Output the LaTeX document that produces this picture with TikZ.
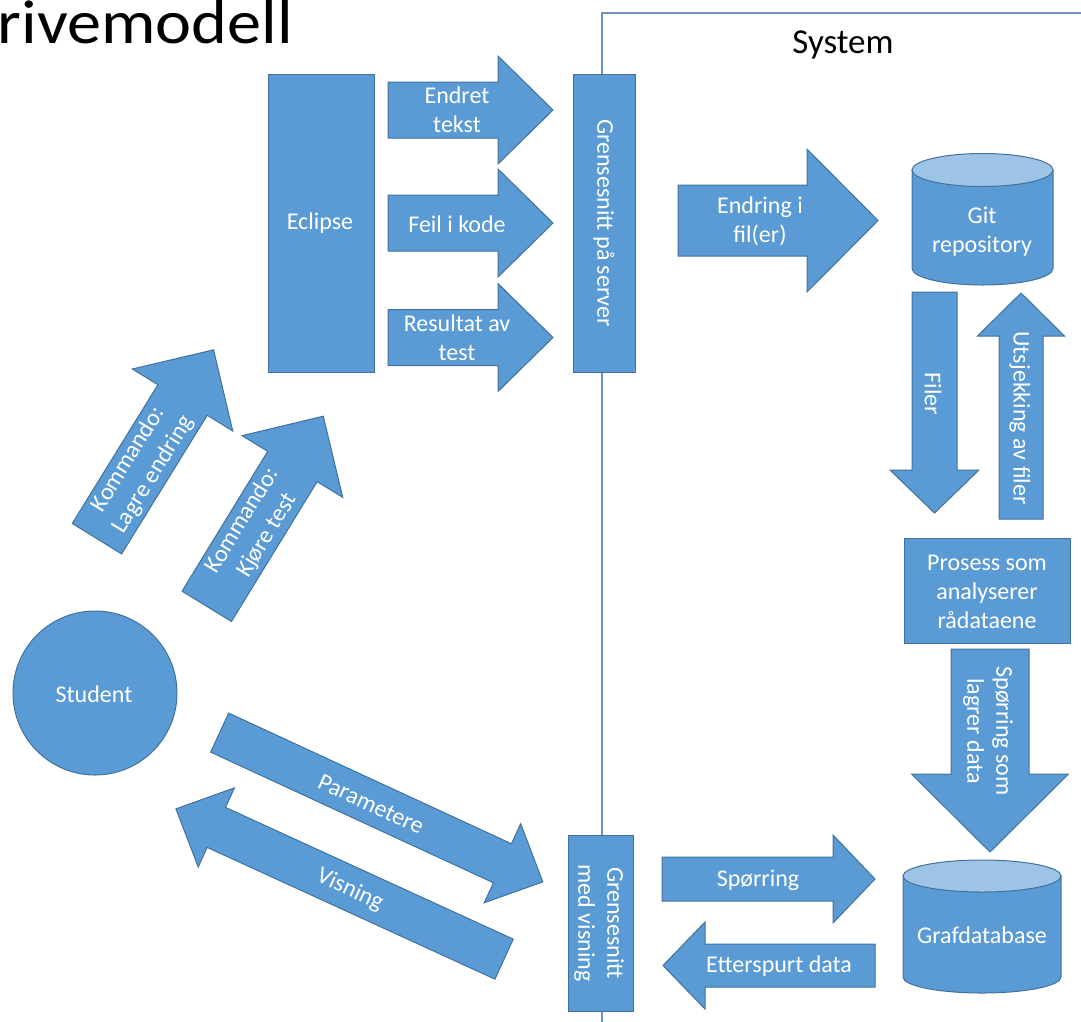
\documentclass[tikz,border=0pt]{standalone}
\usepackage{fontspec}
\setmainfont{Carlito}
\definecolor{boxfill}{RGB}{91,155,213}
\definecolor{boxline}{RGB}{65,113,156}
\definecolor{cyltop}{RGB}{157,195,230}
\definecolor{sysline}{RGB}{112,146,190}
% block arrow: center, angle, length, body width, head width, head length
\newcommand\blockarrow[6]{%
  \begin{scope}[shift={#1}, rotate=#2]
    \path[arrowshape] ({-#3/2},{-#4/2}) -- ({#3/2-#6},{-#4/2}) -- ({#3/2-#6},{-#5/2})
      -- ({#3/2},0) -- ({#3/2-#6},{#5/2}) -- ({#3/2-#6},{#4/2}) -- ({-#3/2},{#4/2}) -- cycle;
  \end{scope}}
% cylinder: left x, right x, top centre y, bottom centre y, radius x, radius y
\newcommand\dbcylinder[6]{%
  \path[box] (#1,#3) -- (#1,#4) arc[start angle=180, end angle=360, x radius=#5pt, y radius=#6pt]
    -- (#2,#3) -- cycle;
  \path[box, fill=cyltop] ({(#1+#2)/2},#3) ellipse [x radius=#5pt, y radius=#6pt];}
\begin{document}
\begin{tikzpicture}[x=1pt, y=-1pt,
  box/.style={fill=boxfill, draw=boxline, line width=1pt},
  arrowshape/.style={fill=boxfill, draw=boxline, line width=1pt, line join=miter},
  lbl/.style={text=white, font=\fontsize{24}{29}\selectfont, align=center, inner sep=0pt},
  heading/.style={text=black, inner sep=0pt}]
\useasboundingbox (0,0) rectangle (1081,1021);

% title
\node[heading, anchor=base east, xscale=1.1, font=\fontsize{62}{68}\selectfont] (title) at (293,43) {rivemodell};

% system boundary
\coordinate (sysA) at (602,1025);
\coordinate (sysB) at (602,13);
\coordinate (sysC) at (1085,13);
\draw[sysline, line width=1.3pt] (sysA) -- (sysB) -- (sysC);
\node[heading, font=\fontsize{35}{40}\selectfont] (system) at (843,45) {System};

% ---------- shapes ----------
\path[box] (268,74) rectangle (374,372);
\path[box] (573,74) rectangle (635,372);
\path[box] (904,538) rectangle (1070,643);
\path[box] (568,835) rectangle (633,1011);
\path[box] (95,693) circle[radius=82pt];
\dbcylinder{912}{1053}{170}{268.5}{70.5}{16.5}
\dbcylinder{903}{1061}{876}{977}{79}{16}

% arrows from Eclipse to the server interface
\blockarrow{(470.5,110)}{0}{165}{56}{108}{55}
\blockarrow{(470.5,223)}{0}{165}{56}{108}{55}
\blockarrow{(470.5,337.5)}{0}{165}{56}{108}{55}
% server to repository
\blockarrow{(778,220.5)}{0}{200}{71}{143}{71}
% repository and analysis process
\blockarrow{(934.5,402.5)}{-90}{221}{45}{89}{43}
\blockarrow{(1021,406)}{90}{226}{44}{87}{43}
\blockarrow{(990,750.5)}{-90}{203}{78}{157}{78}
% view interface and graph database
\blockarrow{(768.5,879)}{0}{213}{44}{88}{42}
\blockarrow{(769,965.5)}{180}{212}{43}{87}{42}
% student commands
\blockarrow{(155.25,444.25)}{58.3}{222}{58}{118}{59}
\blockarrow{(265,511.25)}{58.5}{223}{58}{118}{59}
% parameters and view
\blockarrow{(381.25,807.25)}{-24.8}{356}{43}{87}{44.5}
\blockarrow{(340,884)}{155.4}{361}{44}{87}{44.5}

% ---------- labels ----------
\node[lbl] (eclipse) at (320,223) {Eclipse};
\node[lbl, rotate=-90] (server) at (604,223) {Grensesnitt på server};
\node[lbl] (prosess) at (987,592) {Prosess som\\analyserer\\rådataene};
\node[lbl, rotate=-90] (visning) at (599,923) {Grensesnitt\\med visning};
\node[lbl] (student) at (94,694) {Student};
\node[lbl] (git) at (982,232) {Git\\repository};
\node[lbl] (graf) at (982,935) {Grafdatabase};
\node[lbl] (endret) at (457,110) {Endret\\tekst};
\node[lbl] (feil) at (457,224) {Feil i kode};
\node[lbl] (resultat) at (457,338) {Resultat av\\test};
\node[lbl] (endring) at (760,221) {Endring i\\fil(er)};
\node[lbl, rotate=-90] (filer) at (933,394) {Filer};
\node[lbl, rotate=-90] (utsjekking) at (1020,418) {Utsjekking av filer};
\node[lbl, rotate=-90] (lagrer) at (988,731) {Spørring som\\lagrer data};
\node[lbl] (sporring) at (758,880) {Spørring};
\node[lbl] (etterspurt) at (779,966) {Etterspurt data};
\node[lbl, rotate=58.3] (lagre) at (141,467) {Kommando:\\Lagre endring};
\node[lbl, rotate=58.5] (kjore) at (255,528) {Kommando:\\Kjøre test};
\node[lbl, rotate=-24.8] (param) at (371,804) {Parametere};
\node[lbl, rotate=-24.6] (visn) at (350,890) {Visning};
\end{tikzpicture}
\end{document}
